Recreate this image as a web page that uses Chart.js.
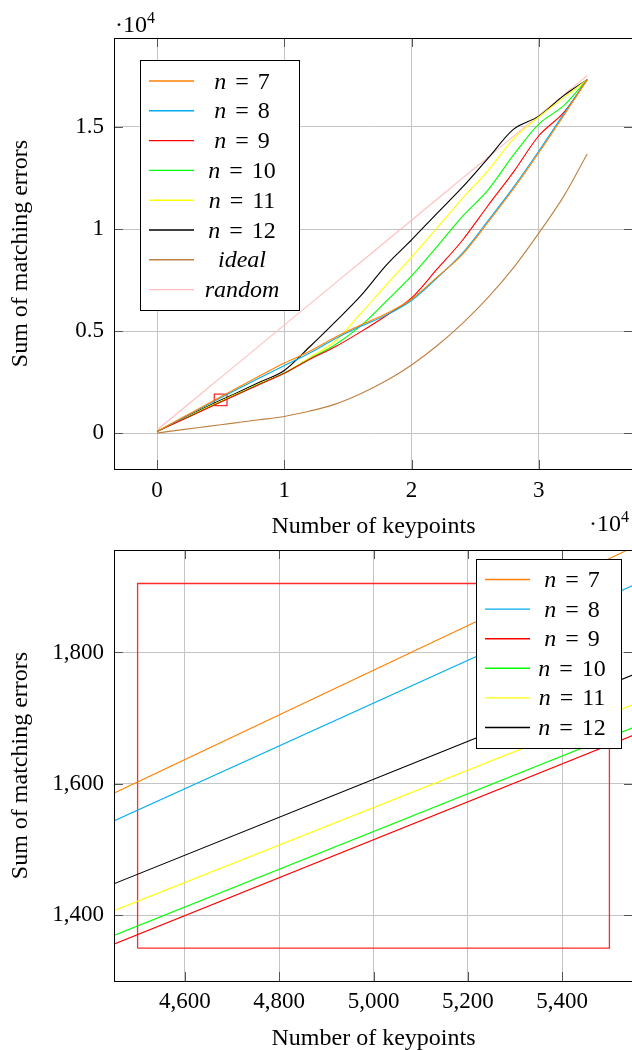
<!DOCTYPE html>
<html>
<head>
<meta charset="utf-8">
<title>Sum of matching errors</title>
<script src="https://cdn.jsdelivr.net/npm/chart.js@4.4.0/dist/chart.umd.min.js"></script>
<style>
  html, body { margin: 0; padding: 0; background: #fff; overflow: hidden; }
  #wrap { position: relative; width: 632px; height: 1050px; overflow: hidden; }
  #overviewChart { position: absolute; left: 0; top: 0; }
  #zoomChart { position: absolute; left: 0; top: 500px; }
</style>
</head>
<body>
<div id="wrap">
  <canvas id="overviewChart" width="640" height="541"></canvas>
  <canvas id="zoomChart" width="640" height="553"></canvas>
</div>
<script>
// x values shared by every series
const keypoints = [0, 2000, 4000, 6000, 8000, 10000, 12000, 14000, 16000, 18000,
                   20000, 22000, 24000, 26000, 28000, 30000, 32000, 33800];

// sum of matching errors per series
const errN7     = [80, 760, 1433, 2113, 2780, 3430, 4010, 4700, 5300, 5850, 6560, 7640, 8760, 10320, 11960, 13740, 15600, 17320];
const errN8     = [80, 735, 1397, 2049, 2690, 3310, 3920, 4620, 5230, 5780, 6500, 7600, 8820, 10400, 12040, 13820, 15680, 17320];
const errN9     = [80, 650, 1226, 1804, 2370, 2930, 3620, 4230, 4960, 5750, 6620, 8030, 9450, 11140, 12790, 14570, 15740, 17320];
const errN10    = [80, 660, 1240, 1815, 2390, 2940, 3640, 4330, 5250, 6450, 7700, 9140, 10620, 11910, 13620, 15140, 16070, 17320];
const errN11    = [80, 680, 1279, 1849, 2410, 2950, 3710, 4500, 5850, 7250, 8620, 10050, 11500, 12850, 14400, 15490, 16450, 17320];
const errN12    = [80, 700, 1318, 1896, 2480, 3070, 4230, 5450, 6720, 8220, 9470, 10770, 12050, 13460, 14880, 15530, 16560, 17320];
const errIdeal  = [0, 170, 330, 490, 650, 815, 1080, 1420, 1930, 2560, 3340, 4280, 5380, 6640, 8100, 9800, 11650, 13680];
const errRandom = [150, 1180, 2210, 3230, 4260, 5290, 6320, 7350, 8370, 9400, 10430, 11460, 12490, 13510, 14540, 15570, 16600, 17520];

// zoomed region (drawn as a red box in both plots)
const zoomBoxX = [4500, 5500, 5500, 4500, 4500];
const zoomBoxY = [1350, 1350, 1905, 1905, 1350];

// ticks
const overviewXTicks = [0, 10000, 20000, 30000];
const overviewYTicks = [0, 5000, 10000, 15000];
const zoomXTicks = [4600, 4800, 5000, 5200, 5400];
const zoomYTicks = [1400, 1600, 1800];

const seriesNames = ['n = 7', 'n = 8', 'n = 9', 'n = 10', 'n = 11', 'n = 12', 'ideal', 'random'];
const seriesColors = ['#ff8000', '#00aeef', '#ff0000', '#00ff00', '#ffff00', '#000000', '#bf8040', '#ffbfbf'];
const seriesValues = [errN7, errN8, errN9, errN10, errN11, errN12, errIdeal, errRandom];

const SERIF = '"Liberation Serif", "DejaVu Serif", serif';

function makeSeries(count, smooth) {
    const sets = [];
    for (let i = 0; i < count; i++) {
        sets.push({
            label: seriesNames[i],
            data: keypoints.map((k, j) => ({ x: k, y: seriesValues[i][j] })),
            borderColor: seriesColors[i],
            borderWidth: 1.1,
            pointRadius: 0,
            tension: 0,
            cubicInterpolationMode: smooth ? 'monotone' : 'default',
            fill: false
        });
    }
    sets.push({
        label: 'zoom',
        data: zoomBoxX.map((v, j) => ({ x: v, y: zoomBoxY[j] })),
        borderColor: '#ff2a2a',
        borderWidth: 1.3,
        pointRadius: 0,
        tension: 0,
        fill: false
    });
    return sets;
}

// inward ticks and the full frame, pgfplots style
const pgfFrame = {
    id: 'pgfFrame',
    afterDatasetsDraw(chart) {
        const { ctx, chartArea: a, scales: { x, y } } = chart;
        ctx.save();
        ctx.strokeStyle = '#555';
        ctx.lineWidth = 1;
        ctx.beginPath();
        x.ticks.forEach(t => {
            const px = Math.round(x.getPixelForValue(t.value)) + 0.5;
            ctx.moveTo(px, a.top); ctx.lineTo(px, a.top + 9);
            ctx.moveTo(px, a.bottom); ctx.lineTo(px, a.bottom - 9);
        });
        y.ticks.forEach(t => {
            const py = Math.round(y.getPixelForValue(t.value)) + 0.5;
            ctx.moveTo(a.left, py); ctx.lineTo(a.left + 9, py);
            ctx.moveTo(a.right, py); ctx.lineTo(a.right - 9, py);
        });
        ctx.stroke();
        ctx.strokeStyle = '#000';
        ctx.strokeRect(Math.round(a.left) + 0.5, Math.round(a.top) + 0.5,
                       Math.round(a.right - a.left), Math.round(a.bottom - a.top));
        ctx.restore();
    }
};

// legend box and the "·10^4" factor
const pgfLegend = {
    id: 'pgfLegend',
    afterDraw(chart, args, opts) {
        const ctx = chart.ctx;
        const items = chart.data.datasets.filter(d => d.label !== 'zoom');
        ctx.save();
        ctx.fillStyle = '#fff';
        ctx.fillRect(opts.left, opts.top, opts.width, opts.height);
        ctx.strokeStyle = '#000';
        ctx.lineWidth = 1;
        ctx.strokeRect(opts.left + 0.5, opts.top + 0.5, opts.width, opts.height);
        const size = 24;
        const upright = size + 'px ' + SERIF;
        const italic = 'italic ' + size + 'px ' + SERIF;
        items.forEach((d, i) => {
            const cy = opts.top + opts.firstRow + i * opts.rowStep;
            ctx.strokeStyle = d.borderColor;
            ctx.lineWidth = 1.4;
            ctx.beginPath();
            ctx.moveTo(opts.lineFrom, cy + 0.5);
            ctx.lineTo(opts.lineTo, cy + 0.5);
            ctx.stroke();
            ctx.fillStyle = '#000';
            ctx.textBaseline = 'alphabetic';
            const base = cy + 8;
            if (d.label.startsWith('n = ')) {
                const num = d.label.slice(4);
                const gap = 9;
                ctx.font = italic; const wn = ctx.measureText('n').width;
                ctx.font = upright; const we = ctx.measureText('=').width;
                const wd = ctx.measureText(num).width;
                let xx = opts.textCenter - (wn + gap + we + gap + wd) / 2;
                ctx.font = italic; ctx.fillText('n', xx, base); xx += wn + gap;
                ctx.font = upright; ctx.fillText('=', xx, base); xx += we + gap;
                ctx.fillText(num, xx, base);
            } else {
                ctx.font = italic;
                ctx.textAlign = 'center';
                ctx.fillText(d.label, opts.textCenter, base);
                ctx.textAlign = 'left';
            }
        });
        // axis multiplier
        ctx.fillStyle = '#000';
        ctx.textBaseline = 'alphabetic';
        ctx.font = '24px ' + SERIF;
        const wMain = ctx.measureText('\u00b710').width;
        ctx.font = '16px ' + SERIF;
        const wExp = ctx.measureText('4').width;
        const fx = opts.factorAlign === 'right' ? opts.factorX - wMain - wExp : opts.factorX;
        ctx.font = '24px ' + SERIF;
        ctx.fillText('\u00b710', fx, opts.factorY);
        ctx.font = '16px ' + SERIF;
        ctx.fillText('4', fx + wMain, opts.factorY - 9);
        ctx.restore();
    }
};

function axisOptions(min, max, tickList, fmt, fitFn, titlePad, tickPad) {
    return {
        type: 'linear',
        min: min,
        max: max,
        afterBuildTicks: axis => { axis.ticks = tickList.map(v => ({ value: v })); },
        afterFit: fitFn,
        ticks: {
            callback: fmt,
            color: '#000',
            padding: tickPad,
            maxRotation: 0,
            autoSkip: false,
            font: { family: SERIF, size: 23 }
        },
        grid: { color: '#c4c4c4', lineWidth: 1, drawTicks: false },
        border: { display: false },
        title: {
            display: true,
            color: '#000',
            padding: titlePad,
            font: { family: SERIF, size: 24, lineHeight: 1.2 }
        }
    };
}

const overviewX = axisOptions(-3380, 37400, overviewXTicks, v => String(v / 10000),
    s => { s.height = 72; }, 0, 8);
overviewX.title.text = 'Number of keypoints';
const overviewY = axisOptions(-1760, 19360, overviewYTicks, v => String(v / 10000),
    s => { s.width = 114; }, 6, 10);
overviewY.title.text = 'Sum of matching errors';

new Chart(document.getElementById('overviewChart'), {
    type: 'line',
    data: { datasets: makeSeries(8, true) },
    options: {
        responsive: false,
        animation: false,
        layout: { padding: { left: 0, right: 7, top: 38, bottom: 0 } },
        scales: { x: overviewX, y: overviewY },
        plugins: {
            legend: { display: false },
            tooltip: { enabled: false },
            pgfLegend: {
                left: 140, top: 60, width: 159, height: 250,
                firstRow: 20.5, rowStep: 29.8,
                lineFrom: 149, lineTo: 194, textCenter: 242,
                factorX: 115, factorY: 32, factorAlign: 'left'
            }
        }
    },
    plugins: [pgfFrame, pgfLegend]
});

const zoomX = axisOptions(4450, 5550, zoomXTicks, v => v.toLocaleString('en-US'),
    s => { s.height = 72; }, 0, 7);
zoomX.title.text = 'Number of keypoints';
const zoomY = axisOptions(1300, 1956, zoomYTicks, v => v.toLocaleString('en-US'),
    s => { s.width = 114; }, 6, 10);
zoomY.title.text = 'Sum of matching errors';

new Chart(document.getElementById('zoomChart'), {
    type: 'line',
    data: { datasets: makeSeries(6, false) },
    options: {
        responsive: false,
        animation: false,
        layout: { padding: { left: 0, right: 7, top: 50, bottom: 0 } },
        scales: { x: zoomX, y: zoomY },
        plugins: {
            legend: { display: false },
            tooltip: { enabled: false },
            pgfLegend: {
                left: 476, top: 59, width: 145, height: 189,
                firstRow: 20, rowStep: 29.6,
                lineFrom: 485, lineTo: 530, textCenter: 572,
                factorX: 629, factorY: 31, factorAlign: 'right'
            }
        }
    },
    plugins: [pgfFrame, pgfLegend]
});
</script>
</body>
</html>
